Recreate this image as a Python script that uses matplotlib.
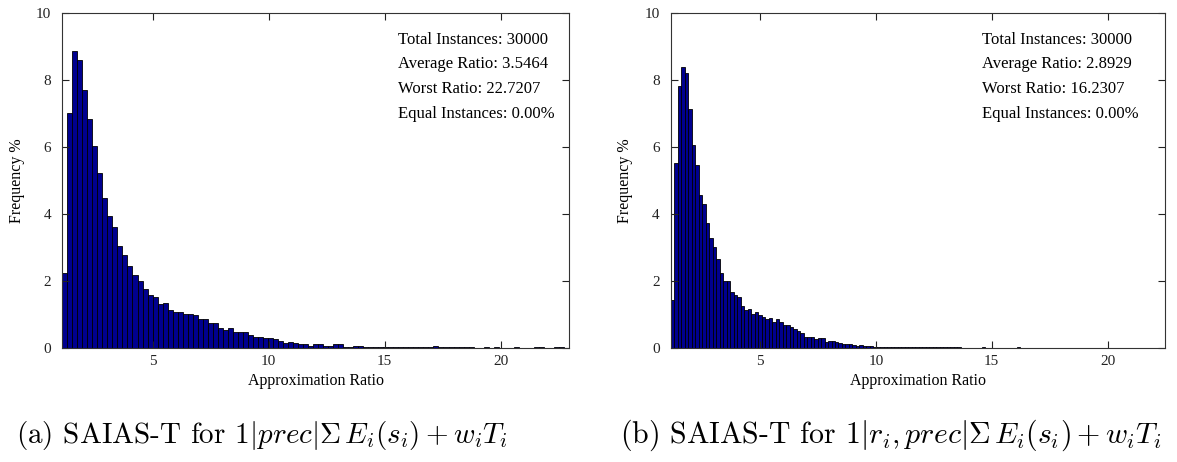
import numpy as np
import matplotlib.pyplot as plt

plt.rcParams['font.family'] = 'Liberation Serif'
plt.rcParams['mathtext.fontset'] = 'cm'

# Histogram heights (% of instances), 100 equal-width bins from min to worst ratio
prec_freq = [
    2.22, 7.00, 8.87, 8.59, 7.69, 6.83, 6.02, 5.22, 4.48, 3.94,
    3.61, 3.05, 2.76, 2.44, 2.16, 1.99, 1.75, 1.58, 1.52, 1.29,
    1.32, 1.14, 1.07, 1.07, 1.02, 1.02, 0.97, 0.85, 0.85, 0.75,
    0.73, 0.58, 0.54, 0.58, 0.46, 0.48, 0.47, 0.39, 0.31, 0.33,
    0.30, 0.30, 0.26, 0.20, 0.15, 0.17, 0.13, 0.11, 0.10, 0.04,
    0.11, 0.11, 0.05, 0.06, 0.11, 0.11, 0.02, 0.02, 0.05, 0.05,
    0.02, 0.02, 0.01, 0.03, 0.02, 0.01, 0.02, 0.01, 0.02, 0.01,
    0.01, 0.02, 0.01, 0.01, 0.04, 0.01, 0.02, 0.01, 0.01, 0.01,
    0.02, 0.01, 0.00, 0.00, 0.02, 0.00, 0.03, 0.00, 0.00, 0.00,
    0.02, 0.00, 0.00, 0.00, 0.02, 0.01, 0.00, 0.00, 0.02, 0.01,
]
release_freq = [
    1.42, 5.52, 7.80, 8.37, 8.20, 7.12, 6.05, 5.46, 4.57, 4.28,
    3.73, 3.27, 3.00, 2.64, 2.24, 1.99, 1.99, 1.65, 1.57, 1.50,
    1.23, 1.13, 1.15, 1.00, 1.08, 0.98, 0.91, 0.85, 0.88, 0.77,
    0.85, 0.78, 0.67, 0.67, 0.61, 0.55, 0.49, 0.43, 0.33, 0.33,
    0.33, 0.26, 0.30, 0.30, 0.17, 0.19, 0.19, 0.16, 0.14, 0.12,
    0.10, 0.10, 0.09, 0.06, 0.08, 0.04, 0.04, 0.04, 0.03, 0.02,
    0.03, 0.02, 0.02, 0.02, 0.01, 0.02, 0.02, 0.01, 0.01, 0.02,
    0.01, 0.01, 0.01, 0.01, 0.03, 0.01, 0.01, 0.02, 0.01, 0.01,
    0.02, 0.01, 0.01, 0.00, 0.00, 0.00, 0.00, 0.00, 0.00, 0.01,
    0.00, 0.00, 0.00, 0.00, 0.00, 0.00, 0.00, 0.00, 0.00, 0.01,
]

prec_min, prec_worst = 1.10, 22.7207
release_min, release_worst = 1.15, 16.2307

prec_stats = ['Total Instances: 30000', 'Average Ratio: 3.5464',
              'Worst Ratio: 22.7207', 'Equal Instances: 0.00%']
release_stats = ['Total Instances: 30000', 'Average Ratio: 2.8929',
                 'Worst Ratio: 16.2307', 'Equal Instances: 0.00%']

captions = [r'(a) SAIAS-T for $1|prec|\Sigma\, E_i(s_i)+w_iT_i$',
            r'(b) SAIAS-T for $1|r_i,prec|\Sigma\, E_i(s_i)+w_iT_i$']

x_ticks = [5, 10, 15, 20]
y_ticks = [0, 2, 4, 6, 8, 10]


def draw_hist(ax, freq, lo, hi, xlim, stats, text_x):
    edges = np.linspace(lo, hi, len(freq) + 1)
    ax.bar(edges[:-1], freq, width=np.diff(edges), align='edge',
           color='#00008F', edgecolor='black', linewidth=0.6)
    ax.set_xlim(*xlim)
    ax.set_ylim(0, 10)
    ax.set_xticks(x_ticks)
    ax.set_yticks(y_ticks)
    ax.tick_params(direction='in', top=True, right=True, length=5,
                   width=0.8, labelsize=11, colors='#222222')
    ax.tick_params(axis='y', pad=8)
    ax.tick_params(axis='x', pad=5)
    for sp in ax.spines.values():
        sp.set_linewidth(0.8)
        sp.set_color('#333333')
    ax.set_xlabel('Approximation Ratio', fontsize=11.5, labelpad=4)
    ax.set_ylabel('Frequency %', fontsize=11.5, labelpad=8)
    ax.text(text_x, 0.943, '\n'.join(stats), transform=ax.transAxes,
            ha='left', va='top', fontsize=12, linespacing=1.72)


fig = plt.figure(figsize=(11.77, 4.62), dpi=100)
ax1 = fig.add_axes([0.0529, 0.2474, 0.4305, 0.7251])
ax2 = fig.add_axes([0.5698, 0.2474, 0.4200, 0.7251])

draw_hist(ax1, prec_freq, prec_min, prec_worst, (1.10, 22.94), prec_stats, 0.663)
draw_hist(ax2, release_freq, release_min, release_worst, (1.15, 22.47), release_stats, 0.63)

fig.text(0.223, 0.058, captions[0], ha='center', va='center', fontsize=21,
         family='cmr10')
fig.text(0.757, 0.058, captions[1], ha='center', va='center', fontsize=21.5,
         family='cmr10')

fig.savefig('out.png', dpi=100)
